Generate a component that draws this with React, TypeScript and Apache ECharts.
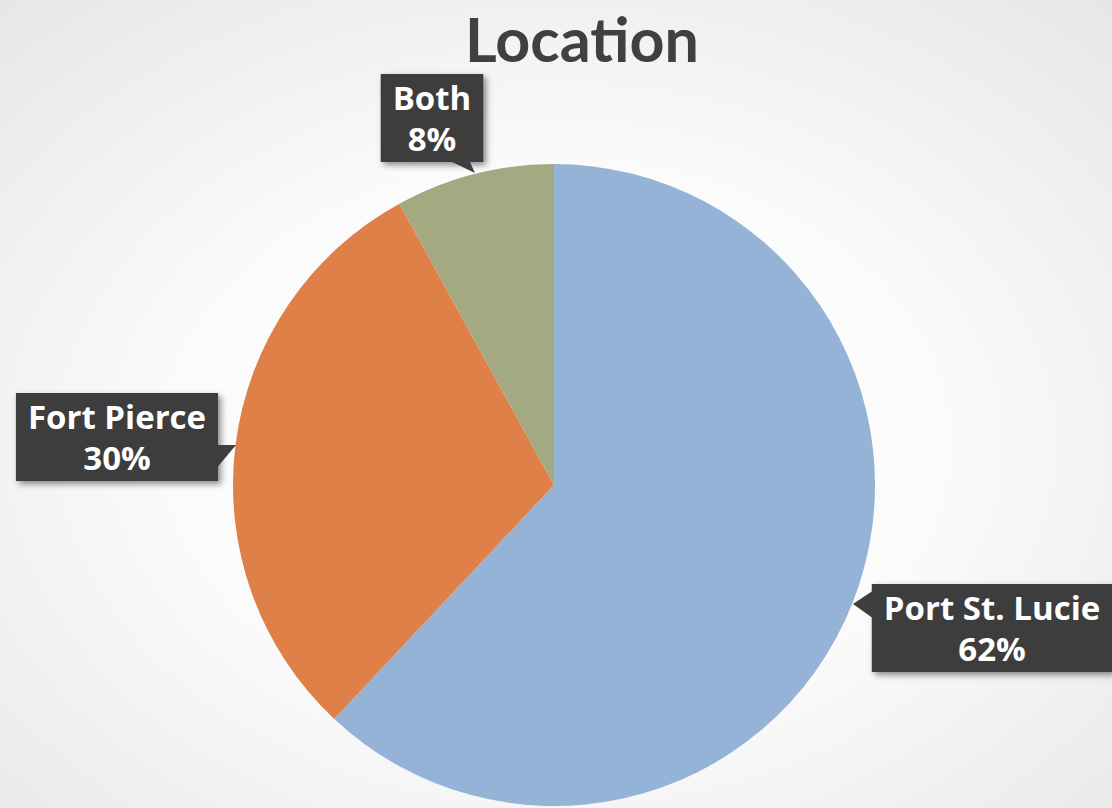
import React, { useEffect, useRef } from "react";
import * as echarts from "echarts";

const categories = ["Port St. Lucie", "Fort Pierce", "Both"];
const values = [62, 30, 8];
const colors = ["#95B3D7", "#DF8048", "#A3A980"];
const titleText = "Location";

// label anchor positions (layout, not data)
const labelPos: Record<number, [number, number]> = {
  0: [992, 628],
  1: [117, 437],
  2: [432, 118],
};

export default function App() {
  const ref = useRef<HTMLDivElement>(null);
  useEffect(() => {
    document.body.style.margin = "0";
    const chart = echarts.init(ref.current!, null, { renderer: "svg" });
    const boxColor = "#3E3E3E";
    chart.setOption({
      animation: false,
      backgroundColor: new echarts.graphic.RadialGradient(0.5, 0.55, 0.75, [
        { offset: 0, color: "#ffffff" },
        { offset: 0.45, color: "#fbfbfb" },
        { offset: 1, color: "#e6e6e6" },
      ]),
      title: {
        text: titleText,
        left: 577,
        top: 0,
        textAlign: "center",
        textStyle: {
          fontFamily: "Lato",
          fontWeight: "bold",
          fontSize: 61,
          lineHeight: 66,
          color: "#404040",
        },
      },
      graphic: [
        {
          type: "polygon",
          shape: { points: [[448, 160], [469, 160], [475, 173]] },
          style: { fill: boxColor },
          z: 100,
        },
        {
          type: "polygon",
          shape: { points: [[215, 445], [236, 445], [215, 470]] },
          style: { fill: boxColor },
          z: 100,
        },
        {
          type: "polygon",
          shape: { points: [[874, 590], [853, 604], [874, 619]] },
          style: { fill: boxColor },
          z: 100,
        },
      ],
      series: [
        {
          type: "pie",
          center: [554, 485],
          radius: 321,
          startAngle: 90,
          clockwise: true,
          data: categories.map((c, i) => ({
            name: c,
            value: values[i],
            itemStyle: { color: colors[i] },
          })),
          labelLine: { show: false },
          label: {
            show: true,
            position: "inside",
            overflow: "none",
            formatter: (p: any) => `${p.name}\n${p.percent.toFixed(0)}%`,
            fontFamily: "Open Sans",
            fontWeight: "bold",
            fontSize: 33,
            lineHeight: 41,
            color: "#ffffff",
            align: "center",
            backgroundColor: boxColor,
            padding: [3, 12, 3, 12],
            shadowColor: "rgba(0,0,0,0.45)",
            shadowBlur: 6,
            shadowOffsetX: 3,
            shadowOffsetY: 3,
          },
          labelLayout: (params: any) => {
            const pos = labelPos[params.dataIndex];
            return {
              x: pos[0],
              y: pos[1],
              align: "center",
              verticalAlign: "middle",
            };
          },
        },
      ],
    });
    return () => chart.dispose();
  }, []);
  return <div ref={ref} style={{ width: 1112, height: 808 }} />;
}
